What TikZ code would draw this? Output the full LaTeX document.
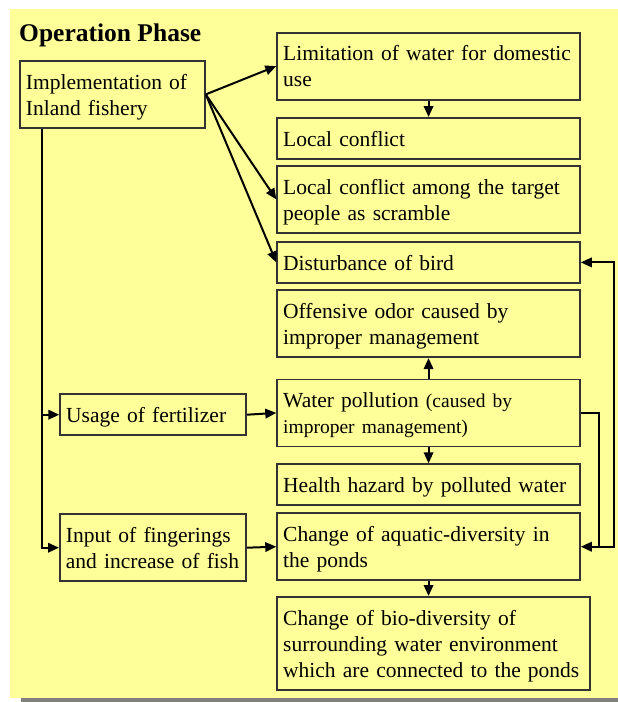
\documentclass[tikz,border=0pt]{standalone}
\usepackage{fontspec}
\setmainfont{Liberation Serif}
\usetikzlibrary{arrows.meta,calc}
\definecolor{bgyellow}{RGB}{255,255,153}
\definecolor{shadowgray}{RGB}{128,128,128}
\newcommand\boxstrut{\rule[-5.2pt]{0pt}{26pt}}
\newcommand\smalltxt{\fontsize{19.5}{26}\selectfont}
\tikzset{
  box/.style={draw=black!80, line width=1.8pt, fill=bgyellow, anchor=north west,
    align=left, inner xsep=6pt, inner ysep=7.5pt,
    font=\fontsize{21.5}{26}\selectfont,
    execute at begin node=\boxstrut, execute at end node=\boxstrut},
  rbox/.style={box, text width=290.7pt},
  lbox/.style={box, text width=174pt},
  arr/.style={line width=2pt, -{Triangle[length=11pt,width=9.5pt]}},
}
\begin{document}
\begin{tikzpicture}[x=1pt,y=-1pt]
\useasboundingbox (0,0) rectangle (618,702);
% panel and its shadow
\fill[bgyellow] (10,9) rectangle (618,698);
\fill[shadowgray] (21,698) rectangle (618,702);

\node[anchor=base west, font=\fontsize{25.5}{30}\selectfont\bfseries, inner sep=0pt] (title) at (19,41) {Operation Phase};

% left column
\node[box, text width=173pt] (impl) at (19,60) {Implementation of\\Inland fishery};
\node[lbox] (fert) at (59.3,393.3) {Usage of fertilizer};
\node[lbox] (fing) at (59,513.3) {Input of fingerings\\and increase of fish};

% right column
\node[rbox] (limit) at (276.3,31.7) {Limitation of water for domestic\\use};
\node[rbox] (local) at (276.3,117) {Local conflict};
\node[rbox] (scram) at (276.3,165) {Local conflict among the target\\people as scramble};
\node[rbox] (bird) at (276.3,241) {Disturbance of bird};
\node[rbox] (odor) at (276.3,289.3) {Offensive odor caused by\\improper management};
\node[rbox] (poll) at (276.3,378.5) {Water pollution {\smalltxt(caused by}\\{\smalltxt improper management)}};
\node[rbox] (health) at (276.3,463.3) {Health hazard by polluted water};
\node[rbox] (aqua) at (276.3,512.3) {Change of aquatic-diversity in\\the ponds};
\node[box, text width=301pt] (bio) at (276.3,596) {Change of bio-diversity of\\surrounding water environment\\which are connected to the ponds};

% connectors from the implementation box
\draw[arr] (impl.east) -- (limit.west);
\draw[arr] (impl.east) -- (scram.west);
\draw[arr] (impl.east) -- (bird.west);

\coordinate (trunk) at ($(impl.south west)+(23.3,0)$);
\draw[arr] (trunk) |- (fing.west);
\draw[arr] (trunk |- fert.west) -- (fert.west);

\draw[arr] (fert.east) -- (poll.west);
\draw[arr] (fing.east) -- (aqua.west);

% vertical links in the right column
\draw[arr] (limit.south) -- (local.north);
\draw[arr] (poll.north) -- (odor.south);
\draw[arr] (poll.south) -- (health.north);
\draw[arr] (aqua.south) -- (aqua.south |- bio.north);

% feedback loops on the right
\coordinate (jn) at ($(aqua.east)+(17.7,0)$);
\draw[arr] (poll.east) -| (jn) -- (aqua.east);
\draw[arr] (jn) -- ++(15.6,0) |- (bird.east);
\end{tikzpicture}
\end{document}
